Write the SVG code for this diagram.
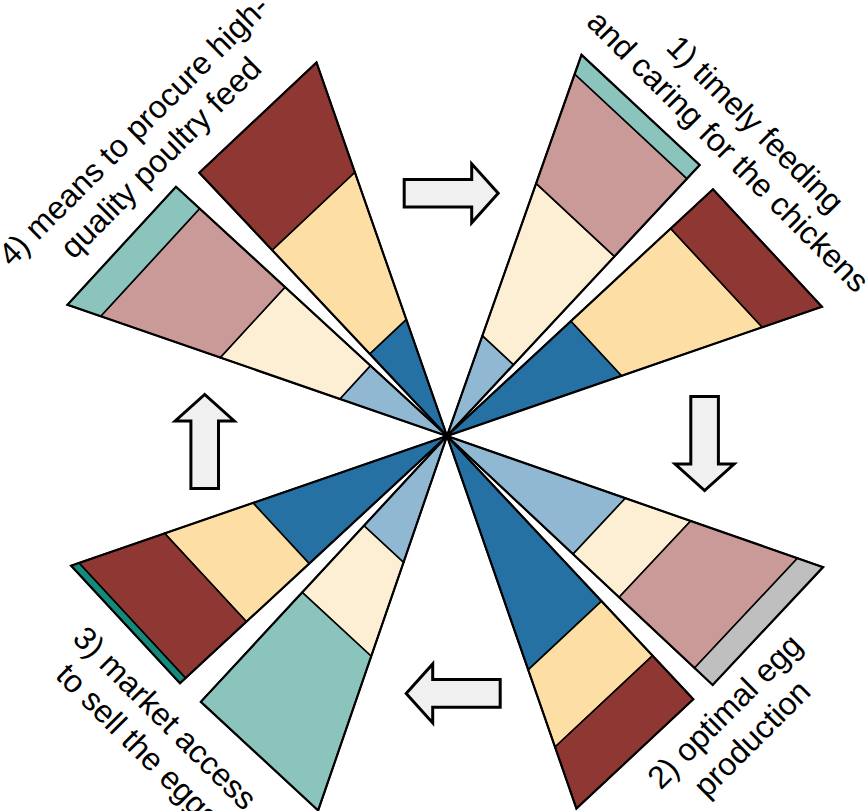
<svg xmlns="http://www.w3.org/2000/svg" width="868" height="811" viewBox="0 0 868 811">
  <style>
    .band { stroke: #000; stroke-width: 1.6; stroke-linejoin: miter; stroke-miterlimit: 10; }
    .edge { fill: none; stroke: #000; stroke-width: 2.2; stroke-linejoin: miter; stroke-miterlimit: 10; }
    .dred { fill: #8f3733; }
    .wheat { fill: #fddfa6; }
    .dblue { fill: #2571a3; }
    .lblue { fill: #91b8d2; }
    .cream { fill: #fdefd4; }
    .pink { fill: #c99a98; }
    .teal { fill: #8ac4bd; }
    .gray { fill: #bfbfbf; }
    .dteal { fill: #168a7a; }
    .arrow { fill: #f0f0f0; stroke: #000; stroke-width: 3; stroke-linejoin: miter; }
    .label { font-family: "Liberation Sans", Arial, sans-serif; font-size: 32px; fill: #000; text-anchor: middle; }
  </style>
  <defs>
    <path id="flow-arrow" d="M0,-13.8 H67.5 V-29.5 L94,0 L67.5,29.5 V13.8 H0 Z"/>
  </defs>

  <!-- group 1: upper right -->
  <g id="wedge-1a" transform="translate(447 436) rotate(-47)">
    <polygon class="band lblue" points="0,0 97.5,0 97.5,-42.5"/>
    <polygon class="band cream" points="97.5,0 245.5,0 245.5,-107.1 97.5,-42.5"/>
    <polygon class="band pink" points="245.5,0 351.8,0 351.8,-153.5 245.5,-107.1"/>
    <polygon class="band teal" points="351.8,0 370.5,0 370.5,-161.6 351.8,-153.5"/>
    <polygon class="edge" points="0,0 370.5,0 370.5,-161.6"/>
  </g>
  <g id="wedge-1b" transform="translate(447 436) rotate(-42.85)">
    <polygon class="band dblue" points="0,0 169,0 169,74.6"/>
    <polygon class="band wheat" points="169,0 305.1,0 305.1,134.7 169,74.6"/>
    <polygon class="band dred" points="305.1,0 362.8,0 362.8,160.2 305.1,134.7"/>
    <polygon class="edge" points="0,0 362.8,0 362.8,160.2"/>
  </g>

  <!-- group 2: lower right -->
  <g id="wedge-2a" transform="translate(447 436) rotate(43.14)">
    <polygon class="band lblue" points="0,0 172.7,0 172.7,-76.6"/>
    <polygon class="band cream" points="172.7,0 235.9,0 235.9,-104.6 172.7,-76.6"/>
    <polygon class="band pink" points="235.9,0 339.3,0 339.3,-150.5 235.9,-104.6"/>
    <polygon class="band gray" points="339.3,0 364.1,0 364.1,-161.5 339.3,-150.5"/>
    <polygon class="edge" points="0,0 364.1,0 364.1,-161.5"/>
  </g>
  <g id="wedge-2b" transform="translate(447 436) rotate(46.9)">
    <polygon class="band dblue" points="0,0 226.2,0 226.2,100.5"/>
    <polygon class="band wheat" points="226.2,0 300.9,0 300.9,133.6 226.2,100.5"/>
    <polygon class="band dred" points="300.9,0 360.5,0 360.5,160.1 300.9,133.6"/>
    <polygon class="edge" points="0,0 360.5,0 360.5,160.1"/>
  </g>

  <!-- group 3: lower left -->
  <g id="wedge-3a" transform="translate(447 436) rotate(132.8)">
    <polygon class="band lblue" points="0,0 122.3,0 122.3,-54"/>
    <polygon class="band cream" points="122.3,0 213.1,0 213.1,-94 122.3,-54"/>
    <polygon class="band teal" points="213.1,0 362.3,0 362.3,-159.9 213.1,-94"/>
    <polygon class="edge" points="0,0 362.3,0 362.3,-159.9"/>
  </g>
  <g id="wedge-3b" transform="translate(447 436) rotate(137.2)">
    <polygon class="band dblue" points="0,0 187.8,0 187.8,82.7"/>
    <polygon class="band wheat" points="187.8,0 273.3,0 273.3,120.4 187.8,82.7"/>
    <polygon class="band dred" points="273.3,0 356.3,0 356.3,156.9 273.3,120.4"/>
    <polygon class="band dteal" points="356.3,0 363.9,0 363.9,160.3 356.3,156.9"/>
    <polygon class="edge" points="0,0 363.9,0 363.9,160.3"/>
  </g>

  <!-- group 4: upper left -->
  <g id="wedge-4a" transform="translate(447 436) rotate(-137.4)">
    <polygon class="band lblue" points="0,0 104,0 104,-45.3"/>
    <polygon class="band cream" points="104,0 220,0 220,-95.8 104,-45.3"/>
    <polygon class="band pink" points="220,0 336,0 336,-146.3 220,-95.8"/>
    <polygon class="band teal" points="336,0 368.2,0 368.2,-160.3 336,-146.3"/>
    <polygon class="edge" points="0,0 368.2,0 368.2,-160.3"/>
  </g>
  <g id="wedge-4b" transform="translate(447 436) rotate(-133.25)">
    <polygon class="band dblue" points="0,0 112.8,0 112.8,50.2"/>
    <polygon class="band wheat" points="112.8,0 255.3,0 255.3,113.6 112.8,50.2"/>
    <polygon class="band dred" points="255.3,0 361.5,0 361.5,160.9 255.3,113.6"/>
    <polygon class="edge" points="0,0 361.5,0 361.5,160.9"/>
  </g>

  <!-- cycle arrows between the groups -->
  <g id="connectors">
    <use href="#flow-arrow" class="arrow" transform="translate(404.2 193.3)"/>
    <use href="#flow-arrow" class="arrow" transform="translate(704.6 396.5) rotate(90)"/>
    <use href="#flow-arrow" class="arrow" transform="translate(500.2 693.4) rotate(180)"/>
    <use href="#flow-arrow" class="arrow" transform="translate(204.7 488.5) rotate(-90)"/>
  </g>

  <!-- group labels -->
  <g id="label-1" class="label" transform="translate(720.5 159) rotate(45)">
    <text x="0" y="-38.4">1) timely feeding</text>
    <text x="0" y="0">and caring for the chickens</text>
  </g>
  <g id="label-2" class="label" transform="translate(759.6 746.2) rotate(-45)">
    <text x="0" y="-38.4">2) optimal egg</text>
    <text x="0" y="0">production</text>
  </g>
  <g id="label-3" class="label" transform="translate(157.5 725.8) rotate(45)">
    <text x="0" y="0">3) market access</text>
    <text x="0" y="38.4">to sell the eggs</text>
  </g>
  <g id="label-4" class="label" transform="translate(141.2 138.2) rotate(-45)">
    <text x="0" y="0">4) means to procure high-</text>
    <text x="0" y="38.4">quality poultry feed</text>
  </g>
</svg>
